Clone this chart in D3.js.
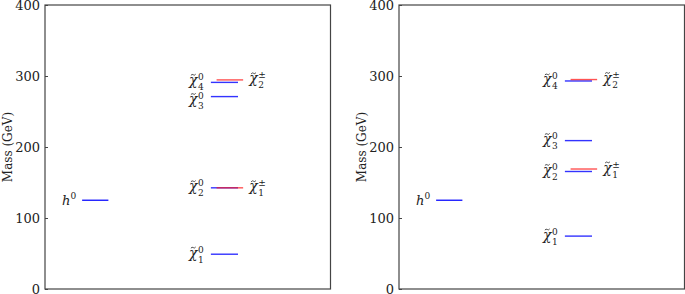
<!DOCTYPE html>
<html>
<head>
<meta charset="utf-8">
<script src="https://cdn.jsdelivr.net/npm/d3@7"></script>
<style>
  body { margin: 0; background: #fff; }
  svg { display: block; }
  svg text { font-family: "DejaVu Serif", serif; fill: #222; }
</style>
</head>
<body>
<svg width="685" height="294"></svg>
<script>
// data (GeV)
var yTicks = [0, 100, 200, 300, 400];
var panelNames = ["left", "right"];
var higgsMass = [125, 125];
var neutralinoIdx = [1, 2, 3, 4];
var charginoIdx = [1, 2];
var neutralinoLeft = [49, 142.5, 271, 291];
var charginoLeft = [142.5, 294.5];
var neutralinoRight = [74.5, 165.5, 209, 293];
var charginoRight = [169, 295];

var neutralinoSets = [neutralinoLeft, neutralinoRight];
var charginoSets = [charginoLeft, charginoRight];

// layout
var panel_x = [45, 399];
var panel_w = 285.5;
var panel_top = 5;
var panel_bottom = 289;
var axis_color = "#444";
var blue = "#1010ff";
var red = "#ff1a1a";

// column positions as fraction of panel width
var higgs_col = [0.13, 0.222];
var neut_col = [0.581, 0.676];
var char_col = [0.601, 0.694];
// small vertical nudges of neutralino labels so they don't collide
var neut_label_shift = [[0, 0, 4, -1], [0, 0, 0, 0]];

var svg = d3.select("svg");

var y = d3.scaleLinear().domain([0, 400]).range([panel_bottom, panel_top]);

var place_level = function(g, x1, x2, yy, color, opacity){
  g.append("line")
    .attr("x1", x1).attr("x2", x2)
    .attr("y1", yy).attr("y2", yy)
    .attr("stroke", color)
    .attr("stroke-width", 1.4)
    .attr("opacity", opacity);
}

// chi-tilde label with stacked sup/sub; anchor "end" puts right edge at x
var place_chi = function(g, x, yy, sup, sub, anchor){
  var lab = g.append("g");
  lab.append("text")
    .attr("x", 0).attr("y", 0)
    .attr("font-style", "italic")
    .attr("font-size", 14)
    .text("\u03c7");
  // tilde accent
  lab.append("path")
    .attr("d", "M2,-9.5 q1.2,-1.6 2.4,-0.6 t2.4,-0.6")
    .attr("fill", "none").attr("stroke", "#222").attr("stroke-width", 0.8);
  lab.append("text")
    .attr("x", 9).attr("y", -5)
    .attr("font-size", 9)
    .text(sup);
  lab.append("text")
    .attr("x", 9).attr("y", 5)
    .attr("font-size", 9)
    .text(sub);
  var w = lab.node().getBBox().width;
  var tx = anchor == "end" ? x - w : x;
  lab.attr("transform", "translate(" + tx + "," + (yy + 3.5) + ")");
}

panelNames.forEach(function(name, p){
  var x0 = panel_x[p];
  var x = d3.scaleLinear().domain([0, 1]).range([x0, x0 + panel_w]);
  var g = svg.append("g").attr("class", "panel-" + name);

  // frame
  g.append("rect")
    .attr("x", x0).attr("y", panel_top)
    .attr("width", panel_w).attr("height", panel_bottom - panel_top)
    .attr("fill", "none").attr("stroke", axis_color).attr("stroke-width", 1.2);

  // y axis, ticks inward
  var ax = g.append("g")
    .attr("transform", "translate(" + x0 + ",0)")
    .call(d3.axisRight(y).tickValues(yTicks).tickSize(3).tickFormat(""));
  ax.select(".domain").remove();
  ax.selectAll("line").attr("stroke", axis_color);

  g.selectAll(".ylab").data(yTicks).enter().append("text")
    .attr("class", "ylab")
    .attr("x", x0 - 5).attr("y", function(d){ return Math.min(y(d) + 5, 293.5); })
    .attr("text-anchor", "end")
    .attr("font-size", 13)
    .text(function(d){ return d; });

  g.append("text")
    .attr("transform", "translate(" + (x0 - 33) + "," + y(200) + ") rotate(-90)")
    .attr("text-anchor", "middle")
    .attr("font-size", 12)
    .text("Mass (GeV)");

  // higgs
  var hy = y(higgsMass[p]);
  place_level(g, x(higgs_col[0]), x(higgs_col[1]), hy, blue, 0.95);
  var ht = g.append("text")
    .attr("x", x(higgs_col[0]) - 6).attr("y", hy + 4.5)
    .attr("text-anchor", "end")
    .attr("font-size", 13);
  ht.append("tspan").attr("font-style", "italic").text("h");
  ht.append("tspan").attr("font-size", 9).attr("dy", -5.5).text("0");

  // neutralinos
  neutralinoSets[p].forEach(function(m, i){
    place_level(g, x(neut_col[0]), x(neut_col[1]), y(m), blue, 0.85);
    place_chi(g, x(neut_col[0]) - 6, y(m) + neut_label_shift[p][i], "0", neutralinoIdx[i], "end");
  });
  // charginos
  charginoSets[p].forEach(function(m, i){
    place_level(g, x(char_col[0]), x(char_col[1]), y(m), red, 0.75);
    place_chi(g, x(char_col[1]) + 6, y(m), "\u00b1", charginoIdx[i], "start");
  });
});
</script>
</body>
</html>
